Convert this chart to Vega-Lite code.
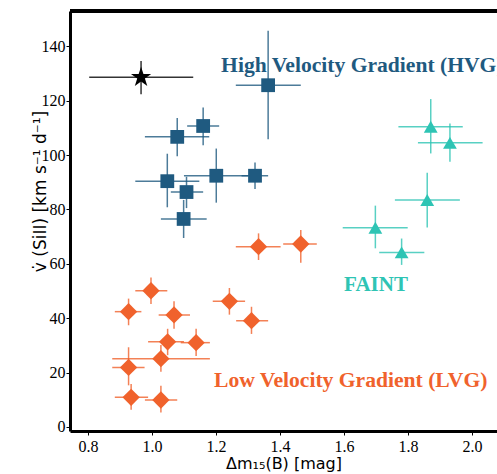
{
  "$schema": "https://vega.github.io/schema/vega-lite/v6.json",
  "autosize": "none",
  "width": 427,
  "height": 420,
  "padding": {"left": 70, "top": 11, "right": 0, "bottom": 43},
  "config": {
    "view": {"stroke": null},
    "axis": {
      "domainColor": "black", "domainWidth": 3, "tickColor": "black", "tickSize": 4, "tickWidth": 1,
      "labelFont": "Liberation Serif", "labelFontSize": 16, "labelColor": "black",
      "titleFont": "DejaVu Sans", "titleFontSize": 16, "titleFontWeight": "normal", "titleColor": "black",
      "grid": false
    }
  },
  "data": {"values": [
    {"g": "star", "x": 0.966, "y": 128.6, "xlo": 0.804, "xhi": 1.129, "ylo": 122.4, "yhi": 134.6},
    {"g": "HVG", "x": 1.363, "y": 125.7, "xlo": 1.262, "xhi": 1.465, "ylo": 105.8, "yhi": 145.7},
    {"g": "HVG", "x": 1.160, "y": 110.7, "xlo": 1.110, "xhi": 1.210, "ylo": 103.6, "yhi": 117.5},
    {"g": "HVG", "x": 1.079, "y": 106.7, "xlo": 0.978, "xhi": 1.179, "ylo": 99.6, "yhi": 113.6},
    {"g": "HVG", "x": 1.048, "y": 90.4, "xlo": 0.948, "xhi": 1.148, "ylo": 80.8, "yhi": 100.5},
    {"g": "HVG", "x": 1.108, "y": 86.4, "xlo": 1.059, "xhi": 1.160, "ylo": 80.5, "yhi": 92.0},
    {"g": "HVG", "x": 1.201, "y": 92.4, "xlo": 1.100, "xhi": 1.300, "ylo": 82.5, "yhi": 102.4},
    {"g": "HVG", "x": 1.322, "y": 92.4, "xlo": 1.280, "xhi": 1.363, "ylo": 87.5, "yhi": 97.3},
    {"g": "HVG", "x": 1.099, "y": 76.5, "xlo": 1.028, "xhi": 1.171, "ylo": 69.5, "yhi": 83.5},
    {"g": "LVG", "x": 1.333, "y": 66.3, "xlo": 1.262, "xhi": 1.402, "ylo": 61.4, "yhi": 71.2},
    {"g": "LVG", "x": 1.465, "y": 67.3, "xlo": 1.410, "xhi": 1.515, "ylo": 60.4, "yhi": 72.4},
    {"g": "LVG", "x": 0.997, "y": 50.1, "xlo": 0.948, "xhi": 1.048, "ylo": 45.2, "yhi": 55.0},
    {"g": "LVG", "x": 0.927, "y": 42.4, "xlo": 0.884, "xhi": 0.967, "ylo": 37.4, "yhi": 47.2},
    {"g": "LVG", "x": 1.069, "y": 41.2, "xlo": 1.021, "xhi": 1.119, "ylo": 36.1, "yhi": 46.2},
    {"g": "LVG", "x": 1.242, "y": 46.2, "xlo": 1.190, "xhi": 1.291, "ylo": 41.3, "yhi": 51.1},
    {"g": "LVG", "x": 1.311, "y": 39.1, "xlo": 1.263, "xhi": 1.363, "ylo": 34.2, "yhi": 44.2},
    {"g": "LVG", "x": 1.049, "y": 31.3, "xlo": 0.988, "xhi": 1.100, "ylo": 26.4, "yhi": 36.1},
    {"g": "LVG", "x": 1.138, "y": 31.0, "xlo": 1.090, "xhi": 1.181, "ylo": 26.1, "yhi": 36.1},
    {"g": "LVG", "x": 1.028, "y": 25.1, "xlo": 0.876, "xhi": 1.181, "ylo": 20.3, "yhi": 30.1},
    {"g": "LVG", "x": 0.927, "y": 21.9, "xlo": 0.876, "xhi": 0.977, "ylo": 15.3, "yhi": 29.3},
    {"g": "LVG", "x": 0.935, "y": 10.9, "xlo": 0.884, "xhi": 0.988, "ylo": 6.3, "yhi": 15.8},
    {"g": "LVG", "x": 1.028, "y": 9.9, "xlo": 0.978, "xhi": 1.079, "ylo": 5.3, "yhi": 15.1},
    {"g": "FAINT", "x": 1.871, "y": 110.4, "xlo": 1.770, "xhi": 1.971, "ylo": 100.6, "yhi": 120.6},
    {"g": "FAINT", "x": 1.931, "y": 104.5, "xlo": 1.831, "xhi": 2.033, "ylo": 97.5, "yhi": 111.6},
    {"g": "FAINT", "x": 1.860, "y": 83.5, "xlo": 1.759, "xhi": 1.962, "ylo": 73.4, "yhi": 93.5},
    {"g": "FAINT", "x": 1.698, "y": 73.3, "xlo": 1.596, "xhi": 1.799, "ylo": 65.7, "yhi": 81.4},
    {"g": "FAINT", "x": 1.780, "y": 64.2, "xlo": 1.710, "xhi": 1.851, "ylo": 59.6, "yhi": 69.3}
  ]},
  "encoding": {
    "color": {"field": "g", "type": "nominal", "scale": {"domain": ["star", "HVG", "LVG", "FAINT"], "range": ["#000000", "#1f5a80", "#f0622c", "#2ec4b4"]}, "legend": null}
  },
  "layer": [
    {
      "mark": {"type": "rule", "strokeWidth": 1.5, "opacity": 0.8},
      "encoding": {
        "x": {"field": "xlo", "type": "quantitative", "scale": {"domain": [0.744, 2.078], "nice": false, "zero": false},
              "axis": {"orient": "bottom", "values": [0.8, 1.0, 1.2, 1.4, 1.6, 1.8, 2.0], "format": ".1f", "labelFont": "Liberation Serif", "labelFontSize": 16, "labelPadding": 3, "title": "Δm₁₅(B) [mag]", "titleFont": "DejaVu Sans", "titleFontSize": 16, "titlePadding": 1}},
        "x2": {"field": "xhi"},
        "y": {"field": "y", "type": "quantitative", "scale": {"domain": [-1.5, 153], "nice": false, "zero": false},
              "axis": {"orient": "left", "values": [0, 20, 40, 60, 80, 100, 120, 140], "labelFont": "Liberation Serif", "labelFontSize": 16, "labelPadding": 1, "title": "v̇ (SiII) [km s⁻¹ d⁻¹]", "titleFont": "DejaVu Sans", "titleFontSize": 17, "titleX": -30, "titleY": 180, "titleBaseline": "middle", "titleAngle": 270}}
      }
    },
    {
      "mark": {"type": "rule", "strokeWidth": 1.5, "opacity": 0.8},
      "encoding": {
        "y": {"field": "ylo", "type": "quantitative"},
        "y2": {"field": "yhi"},
        "x": {"field": "x", "type": "quantitative"}
      }
    },
    {
      "transform": [{"filter": "datum.g == 'HVG'"}],
      "mark": {"type": "point", "filled": true, "opacity": 1, "shape": "square", "size": 190},
      "encoding": {
        "x": {"field": "x", "type": "quantitative"},
        "y": {"field": "y", "type": "quantitative"}
      }
    },
    {
      "transform": [{"filter": "datum.g == 'LVG'"}],
      "mark": {"type": "point", "filled": true, "opacity": 1, "shape": "diamond", "size": 300},
      "encoding": {
        "x": {"field": "x", "type": "quantitative"},
        "y": {"field": "y", "type": "quantitative"}
      }
    },
    {
      "transform": [{"filter": "datum.g == 'FAINT'"}],
      "mark": {"type": "point", "filled": true, "opacity": 1, "shape": "triangle-up", "size": 190},
      "encoding": {
        "x": {"field": "x", "type": "quantitative"},
        "y": {"field": "y", "type": "quantitative"}
      }
    },
    {
      "transform": [{"filter": "datum.g == 'star'"}],
      "mark": {"type": "point", "filled": true, "opacity": 1, "shape": "M0,-1L0.2245,-0.309L0.951,-0.309L0.363,0.118L0.588,0.809L0,0.382L-0.588,0.809L-0.363,0.118L-0.951,-0.309L-0.2245,-0.309Z", "size": 450},
      "encoding": {
        "x": {"field": "x", "type": "quantitative"},
        "y": {"field": "y", "type": "quantitative"}
      }
    },
    {
      "mark": {"type": "rule", "strokeWidth": 3},
      "encoding": {"y": {"datum": 153}, "color": {"value": "black"}}
    },
    {
      "data": {"values": [
        {"label": "High Velocity Gradient (HVG)", "x": 1.216, "y": 130.6, "g": "HVG"},
        {"label": "Low Velocity Gradient (LVG)", "x": 1.194, "y": 14.8, "g": "LVG"}
      ]},
      "mark": {"type": "text", "font": "Liberation Serif", "fontWeight": "bold", "fontSize": 21.6, "baseline": "alphabetic", "align": "left"},
      "encoding": {
        "x": {"field": "x", "type": "quantitative"},
        "y": {"field": "y", "type": "quantitative"},
        "text": {"field": "label"}
      }
    },
    {
      "data": {"values": [
        {"label": "FAINT", "x": 1.70, "y": 50.1, "g": "FAINT"}
      ]},
      "mark": {"type": "text", "font": "Liberation Serif", "fontWeight": "bold", "fontSize": 21, "baseline": "alphabetic", "align": "center"},
      "encoding": {
        "x": {"field": "x", "type": "quantitative"},
        "y": {"field": "y", "type": "quantitative"},
        "text": {"field": "label"}
      }
    }
  ]
}
